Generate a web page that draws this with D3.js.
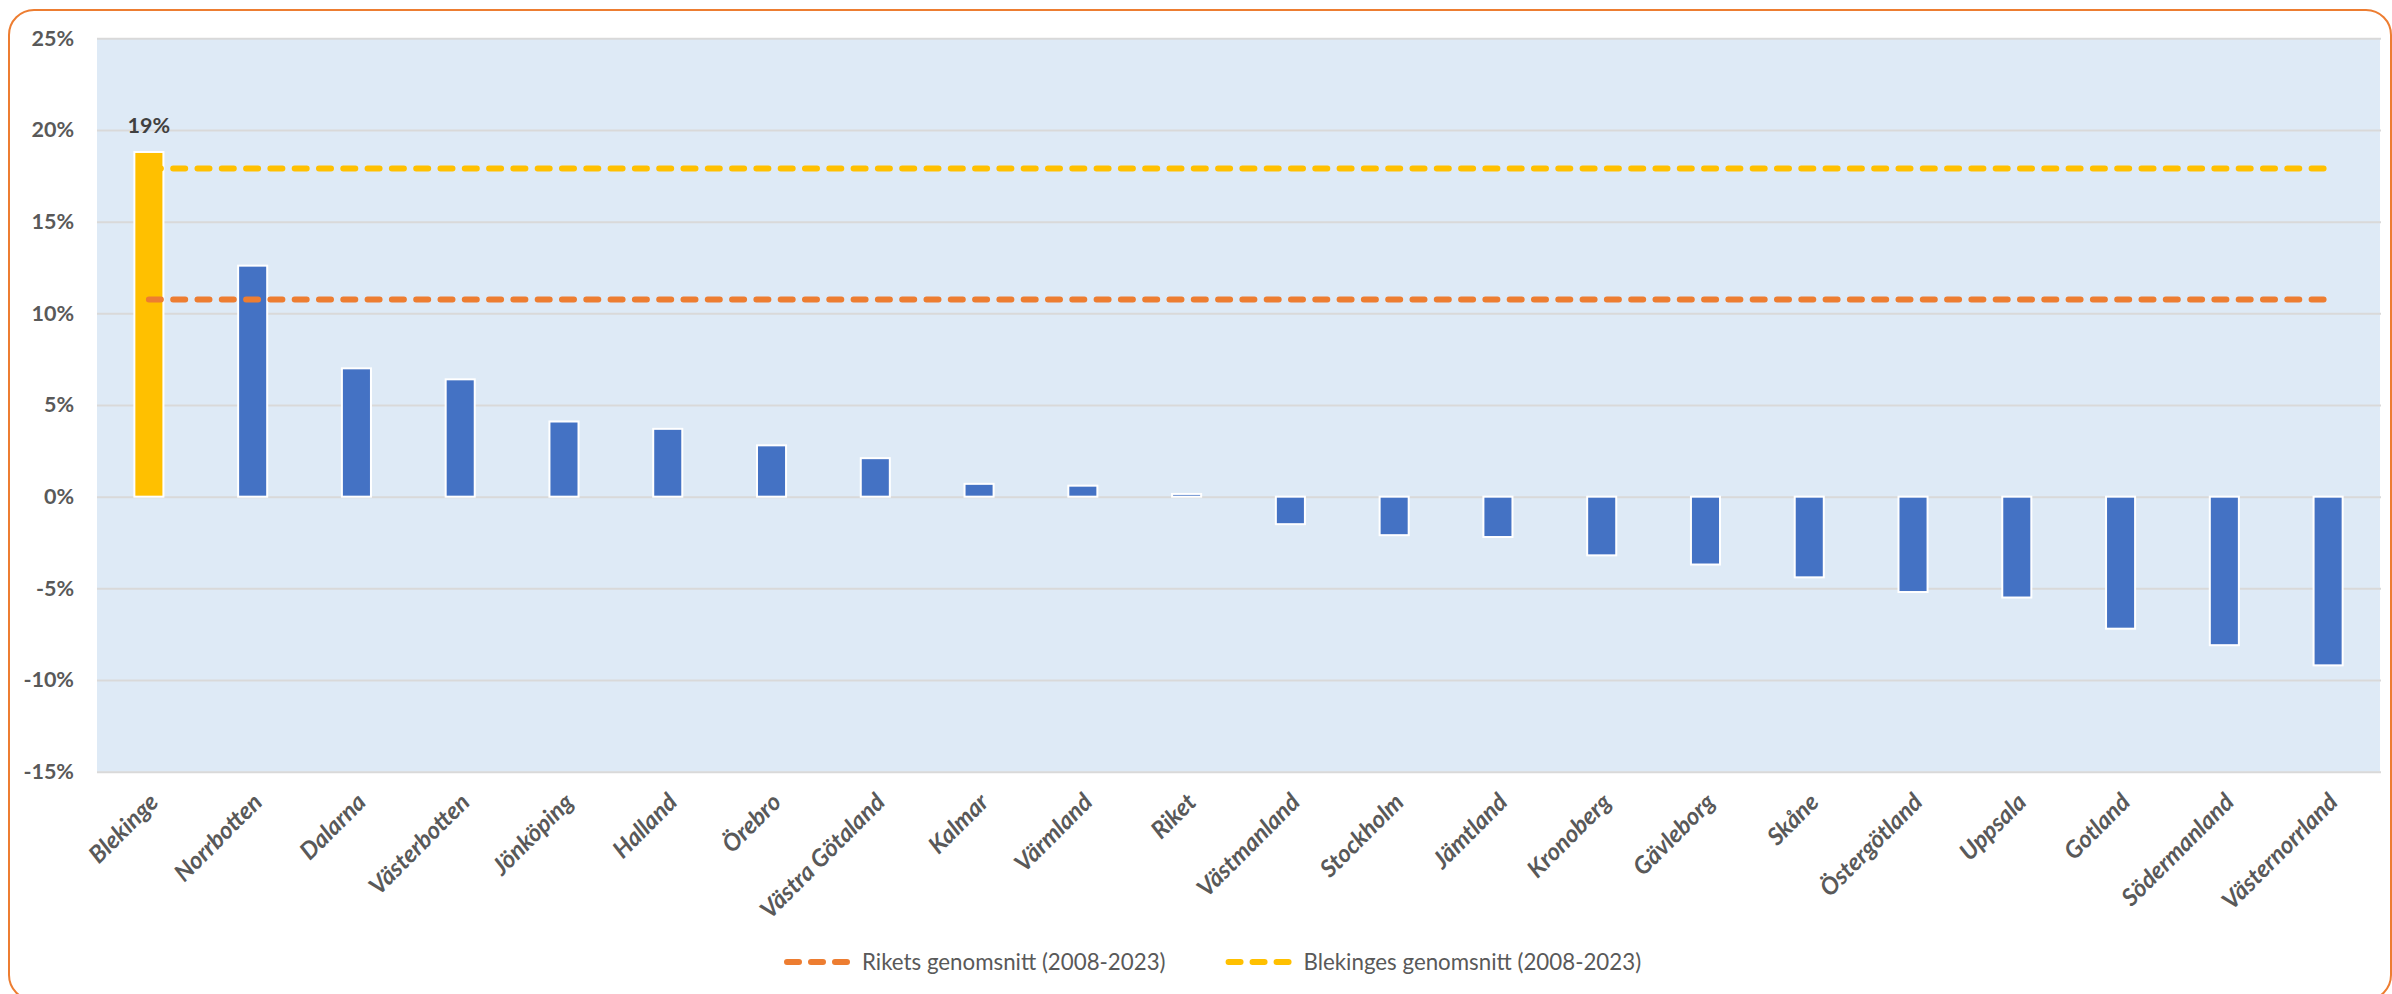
<!DOCTYPE html>
<html>
<head>
<meta charset="utf-8">
<script src="https://cdn.jsdelivr.net/npm/d3@7"></script>
<style>
  html, body { margin: 0; padding: 0; background: #ffffff; }
  svg { display: block; }
  text { font-family: "Lato", "Noto Sans", sans-serif; }
</style>
</head>
<body>
<div id="chart"></div>
<script>
// Län och förändring (%)
const categories = ["Blekinge", "Norrbotten", "Dalarna", "Västerbotten", "Jönköping", "Halland",
    "Örebro", "Västra Götaland", "Kalmar", "Värmland", "Riket", "Västmanland", "Stockholm",
    "Jämtland", "Kronoberg", "Gävleborg", "Skåne", "Östergötland", "Uppsala", "Gotland",
    "Södermanland", "Västernorrland"];
const values = [18.8, 12.6, 7.0, 6.4, 4.1, 3.7, 2.8, 2.1, 0.7, 0.6, 0.15, -1.5, -2.1,
    -2.2, -3.2, -3.7, -4.4, -5.2, -5.5, -7.2, -8.1, -9.2];
const highlighted = "Blekinge";

// Genomsnitt 2008-2023
const rikesAvg = 10.75;
const blekingeAvg = 17.9;

const yTicks = [-15, -10, -5, 0, 5, 10, 15, 20, 25];
const legendItems = [
    { label: "Rikets genomsnitt (2008-2023)", color: "#ED7D31" },
    { label: "Blekinges genomsnitt (2008-2023)", color: "#FFC000" }
];

const W = 2392, H = 994;
const margin = { top: 38.3, left: 97, right: 12, bottom: 222.3 };
const plotW = W - margin.left - margin.right;
const plotH = H - margin.top - margin.bottom;

const svg = d3.select("#chart").append("svg")
    .attr("width", W)
    .attr("height", H);

// ram runt diagrammet
svg.append("rect")
    .attr("x", 9).attr("y", 10)
    .attr("width", 2382).attr("height", 990)
    .attr("rx", 25).attr("ry", 25)
    .attr("fill", "#ffffff")
    .attr("stroke", "#ED7D31")
    .attr("stroke-width", 2);

const g = svg.append("g").attr("transform", `translate(${margin.left},${margin.top})`);

const x = d3.scaleBand()
    .domain(categories)
    .range([0, plotW])
    .paddingInner(0.72)
    .paddingOuter(0.36);

const y = d3.scaleLinear()
    .domain([-15, 25])
    .range([plotH, 0]);

g.append("rect")
    .attr("width", plotW)
    .attr("height", plotH)
    .attr("fill", "#DEEAF6");

// y-axel med stödlinjer
const yAxis = g.append("g")
    .call(d3.axisLeft(y)
        .tickValues(yTicks)
        .tickSize(-plotW - 1)
        .tickPadding(23)
        .tickFormat(d => d + "%"));
yAxis.select(".domain").remove();
yAxis.selectAll("line")
    .attr("stroke", "#D9D9D9")
    .attr("stroke-width", 2);
yAxis.selectAll("text")
    .attr("fill", "#595959")
    .style("font-size", "21.5px")
    .style("font-weight", "bold")
    .style("font-family", "Lato");

// staplar
g.append("g")
    .selectAll("rect")
    .data(categories)
    .enter().append("rect")
    .attr("x", d => x(d))
    .attr("y", (d, i) => y(Math.max(0, values[i])))
    .attr("width", x.bandwidth())
    .attr("height", (d, i) => Math.abs(y(values[i]) - y(0)))
    .attr("fill", d => d === highlighted ? "#FFC000" : "#4472C4")
    .attr("stroke", "#ffffff")
    .attr("stroke-width", 2);

// dataetikett
const hi = categories.indexOf(highlighted);
g.append("text")
    .attr("x", x(highlighted) + x.bandwidth() / 2)
    .attr("y", y(values[hi]) - 19)
    .attr("text-anchor", "middle")
    .attr("fill", "#404040")
    .style("font-size", "21.5px")
    .style("font-weight", "bold")
    .text(Math.round(values[hi]) + "%");

// genomsnittslinjer
const avgLine = v => d3.line()
    .x(d => x(d) + x.bandwidth() / 2)
    .y(() => y(v))(categories);

[[rikesAvg, "#ED7D31"], [blekingeAvg, "#FFC000"]].forEach(([v, c]) => {
    g.append("path")
        .attr("d", avgLine(v))
        .attr("fill", "none")
        .attr("stroke", c)
        .attr("stroke-width", 6)
        .attr("stroke-linecap", "round")
        .attr("stroke-dasharray", "12 12.3");
});

// x-axel
const xAxis = g.append("g")
    .attr("transform", `translate(0,${plotH})`)
    .call(d3.axisBottom(x).tickSize(0));
xAxis.select(".domain").remove();
xAxis.selectAll("text")
    .attr("x", 0).attr("y", 0).attr("dy", 0)
    .attr("transform", "translate(11,32) rotate(-45)")
    .attr("text-anchor", "end")
    .attr("fill", "#595959")
    .style("font-size", "24px")
    .style("font-weight", "bold")
    .style("font-style", "italic")
    .style("font-family", "Lato");

// teckenförklaring
const legend = svg.append("g").attr("transform", "translate(784,962)");
let lx = 0;
legendItems.forEach(item => {
    const it = legend.append("g").attr("transform", `translate(${lx},0)`);
    it.append("line")
        .attr("x1", 3).attr("x2", 63)
        .attr("stroke", item.color)
        .attr("stroke-width", 6)
        .attr("stroke-linecap", "round")
        .attr("stroke-dasharray", "12 12");
    const t = it.append("text")
        .attr("x", 78)
        .attr("dy", "0.35em")
        .attr("fill", "#595959")
        .style("font-size", "22.3px")
        .text(item.label);
    lx += 78 + t.node().getComputedTextLength() + 60;
});
</script>
</body>
</html>
